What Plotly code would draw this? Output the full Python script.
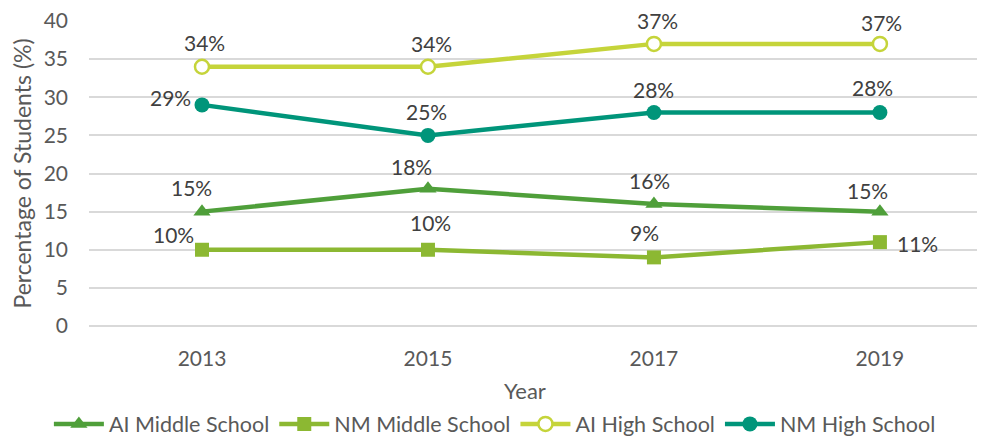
import plotly.graph_objects as go

years = ["2013", "2015", "2017", "2019"]
ai_middle = [15, 18, 16, 15]
nm_middle = [10, 10, 9, 11]
ai_high = [34, 34, 37, 37]
nm_high = [29, 25, 28, 28]

series_names = ["AI Middle School", "NM Middle School", "AI High School", "NM High School"]
colors = ["#4F9F3A", "#8CB832", "#C5D43A", "#00957A"]

# label offsets in pixels (dx, dy up)
label_shifts = [
    [(-10, 24), (-16, 22), (-4, 24), (-12, 21)],
    [(-28, 15), (3, 27), (-9, 25), (38, -1)],
    [(3, 24), (4, 23), (4, 23), (2, 21)],
    [(-31, 7), (-1, 24), (0, 23), (-7, 25)],
]

FONT = "Lato"
fig = go.Figure()
data = [ai_middle, nm_middle, ai_high, nm_high]
markers = [
    dict(symbol="triangle-up", size=15, color=colors[0]),
    dict(symbol="square", size=14, color=colors[1]),
    dict(symbol="circle", size=14, color="white", line=dict(color=colors[2], width=2.5)),
    dict(symbol="circle", size=15, color=colors[3]),
]
for name, vals, col, mk in zip(series_names, data, colors, markers):
    fig.add_trace(go.Scatter(x=years, y=vals, name=name, mode="lines+markers",
                             line=dict(color=col, width=4.5), marker=mk))

annotations = []
for vals, shifts in zip(data, label_shifts):
    for i, (v, (dx, dy)) in enumerate(zip(vals, shifts)):
        annotations.append(dict(x=i, y=v, xref="x", yref="y", text=f"{v}%",
                                showarrow=False, xshift=dx, yshift=dy,
                                font=dict(family=FONT, size=21, color="#404040")))

# x-axis title placed as a paper annotation (Excel centres it slightly left)
annotations.append(dict(x=0.487, y=-0.212, xref="paper", yref="paper", text="Year",
                        showarrow=False, xanchor="center", yanchor="middle",
                        font=dict(family=FONT, size=22, color="#595959")))

fig.update_layout(
    width=977, height=429,
    margin=dict(l=81, r=0, t=13, b=111, autoexpand=False),
    paper_bgcolor="white", plot_bgcolor="white",
    font=dict(family=FONT, color="#595959"),
    showlegend=True,
    legend=dict(orientation="h", x=0.453, xanchor="center", y=-0.321, yanchor="middle",
                font=dict(family=FONT, size=21.5, color="#595959"),
                itemwidth=50, tracegroupgap=0),
    annotations=annotations,
    xaxis=dict(type="category", range=[-0.5, 3.465], showgrid=False, zeroline=False,
               showline=False, ticks="", ticklabelstandoff=18, automargin=False,
               ticklabeloverflow="allow",
               tickfont=dict(family=FONT, size=21, color="#595959")),
    yaxis=dict(range=[0, 40], dtick=5, showgrid=True, gridcolor="#D9D9D9", gridwidth=1.5,
               zeroline=True, zerolinecolor="#D9D9D9", zerolinewidth=1.5,
               showline=False, ticks="", ticklabelstandoff=20, automargin=False,
               ticklabeloverflow="allow",
               tickfont=dict(family=FONT, size=21, color="#595959"),
               title=dict(text="Percentage of Students (%)",
                          font=dict(family=FONT, size=23, color="#595959"), standoff=14)),
)

fig.write_html("out.html")
